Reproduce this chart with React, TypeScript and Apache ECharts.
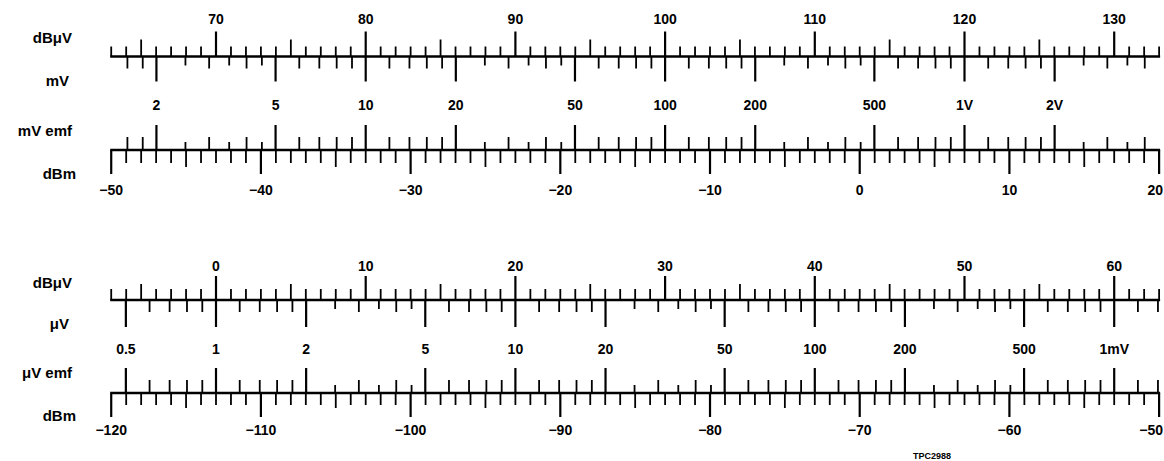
import React, { useEffect, useRef } from "react";
import * as echarts from "echarts";

// ---------- data ----------
const dBuVTopRange = [63, 133]; // dBµV extent of the upper pair of scales
const dBuVBottomRange = [-7, 63]; // dBµV extent of the lower pair of scales
const dBuVTopLabels = [70, 80, 90, 100, 110, 120, 130];
const dBuVBottomLabels = [0, 10, 20, 30, 40, 50, 60];
const mVLabelValues = [2, 5, 10, 20, 50, 100, 200, 500, 1000, 2000];
const mVLabelTexts = ["2", "5", "10", "20", "50", "100", "200", "500", "1V", "2V"];
const uVLabelValues = [0.5, 1, 2, 5, 10, 20, 50, 100, 200, 500, 1000];
const uVLabelTexts = ["0.5", "1", "2", "5", "10", "20", "50", "100", "200", "500", "1mV"];
const dBmTopRange = [-50, 20];
const dBmBottomRange = [-120, -50];
const dBmTopLabels = [-50, -40, -30, -20, -10, 0, 10, 20];
const dBmBottomLabels = [-120, -110, -100, -90, -80, -70, -60, -50];
const logSteps = [1, 1.2, 1.4, 1.6, 1.8, 2, 2.5, 3, 3.5, 4, 4.5, 5, 6, 7, 8, 9];
const logMajor = [1, 2, 5];
const logHalf = [2.5, 3.5, 4.5];
const decades = [-2, -1, 0, 1, 2, 3, 4];
const EMF_DBM_OFFSET = 113; // dBµV(emf) = dBm + 113 (50 Ω, emf = 2 × p.d.)

type Tick = { u: number; kind: string; label?: string };

const fmtDb = (v: number) => (v < 0 ? "\u2212" + Math.abs(v) : String(v));

function linearTicks(range: number[], labels: number[], offset: number): Tick[] {
  const out: Tick[] = [];
  for (let v = range[0]; v <= range[1]; v++) {
    const kind = v % 10 === 0 ? "major" : v % 5 === 0 ? "mid" : "minor";
    out.push({ u: v + offset, kind, label: labels.includes(v) ? fmtDb(v) : undefined });
  }
  return out;
}

function logTicks(range: number[], toMicro: number, labelValues: number[], labelTexts: string[]): Tick[] {
  const out: Tick[] = [];
  for (const e of decades) {
    for (const m of logSteps) {
      const val = m * Math.pow(10, e);
      const u = 20 * Math.log10(val * toMicro);
      if (u <= range[0] + 0.1 || u > range[1] + 0.03) continue;
      const kind = logMajor.includes(m) ? "major" : logHalf.includes(m) ? "half" : "minor";
      const li = labelValues.findIndex((lv) => Math.abs(lv - val) < 1e-6 * lv);
      out.push({ u, kind, label: li >= 0 ? labelTexts[li] : undefined });
    }
  }
  return out;
}

// ---------- layout ----------
const PX_PER_DB = 14.97;
const X70 = 216;
const W = 1164;
const H = 461;
const LINE_Y = [56.5, 150, 300, 393];
const NUM_FONT = 'bold 14px "Liberation Sans", Arial, sans-serif';
const NAME_FONT = 'bold 15px "Liberation Sans", Arial, sans-serif';

type Scale = {
  grid: number;
  lineY: number;
  dir: number;
  len: Record<string, number>;
  labelY: number;
  ticks: Tick[];
};

const scales: Scale[] = [
  { grid: 0, lineY: LINE_Y[0], dir: -1, len: { major: 25, mid: 17, minor: 10 }, labelY: 19,
    ticks: linearTicks(dBuVTopRange, dBuVTopLabels, 0) },
  { grid: 0, lineY: LINE_Y[0], dir: 1, len: { major: 25, half: 9, minor: 12 }, labelY: 105,
    ticks: logTicks(dBuVTopRange, 1000, mVLabelValues, mVLabelTexts) },
  { grid: 0, lineY: LINE_Y[1], dir: -1, len: { major: 25, half: 8, minor: 13 }, labelY: 0,
    ticks: logTicks(dBuVTopRange, 1000, [], []) },
  { grid: 0, lineY: LINE_Y[1], dir: 1, len: { major: 24, mid: 17, minor: 13 }, labelY: 190,
    ticks: linearTicks(dBmTopRange, dBmTopLabels, EMF_DBM_OFFSET) },
  { grid: 1, lineY: LINE_Y[2], dir: -1, len: { major: 24, mid: 16, minor: 11 }, labelY: 266,
    ticks: linearTicks(dBuVBottomRange, dBuVBottomLabels, 0) },
  { grid: 1, lineY: LINE_Y[2], dir: 1, len: { major: 27, half: 9, minor: 12 }, labelY: 349,
    ticks: logTicks(dBuVBottomRange, 1, uVLabelValues, uVLabelTexts) },
  { grid: 1, lineY: LINE_Y[3], dir: -1, len: { major: 25, half: 8, minor: 13 }, labelY: 0,
    ticks: logTicks(dBuVBottomRange, 1, [], []) },
  { grid: 1, lineY: LINE_Y[3], dir: 1, len: { major: 24, mid: 15, minor: 12 }, labelY: 430,
    ticks: linearTicks(dBmBottomRange, dBmBottomLabels, EMF_DBM_OFFSET) },
];

const nameLabels = [
  { text: "dBμV", y: 37, right: 72 },
  { text: "mV", y: 80, right: 69 },
  { text: "mV emf", y: 130, right: 72 },
  { text: "dBm", y: 173, right: 76 },
  { text: "dBμV", y: 282, right: 72 },
  { text: "μV", y: 323, right: 69 },
  { text: "μV emf", y: 372, right: 72 },
  { text: "dBm", y: 415, right: 76 },
];

function tickSeries(s: Scale) {
  return {
    type: "custom",
    coordinateSystem: "cartesian2d",
    xAxisIndex: s.grid,
    yAxisIndex: s.grid,
    clip: false,
    silent: true,
    data: s.ticks.map((t) => [t.u, s.lineY]),
    encode: { x: 0, y: 1 },
    renderItem: (params: any, api: any) => {
      const t = s.ticks[params.dataIndex];
      const p = api.coord([api.value(0), api.value(1)]);
      const x = p[0];
      const y0 = p[1];
      const len = s.len[t.kind];
      const children: any[] = [
        {
          type: "line",
          shape: { x1: x, y1: y0, x2: x, y2: y0 + s.dir * len },
          style: { stroke: "#000", lineWidth: t.kind === "major" ? 2.2 : 1.8 },
        },
      ];
      if (t.label) {
        const ly = api.coord([api.value(0), s.labelY])[1];
        const atEdge = x + 14 > W;
        children.push({
          type: "text",
          x: atEdge ? W - 1 : x,
          y: ly,
          style: {
            text: t.label,
            fill: "#000",
            font: NUM_FONT,
            textAlign: atEdge ? "right" : "center",
            textVerticalAlign: "middle",
          },
        });
      }
      return { type: "group", children };
    },
  };
}

function baselineSeries(grid: number, range: number[], ys: number[]) {
  return {
    type: "custom",
    coordinateSystem: "cartesian2d",
    xAxisIndex: grid,
    yAxisIndex: grid,
    clip: false,
    silent: true,
    data: ys.map((y) => [range[0], y, range[1]]),
    encode: { x: [0, 2], y: 1 },
    renderItem: (params: any, api: any) => {
      const a = api.coord([api.value(0), api.value(1)]);
      const b = api.coord([api.value(2), api.value(1)]);
      return {
        type: "line",
        shape: { x1: a[0] - 1, y1: a[1], x2: b[0] + 1, y2: b[1] },
        style: { stroke: "#000", lineWidth: 2.6 },
      };
    },
  };
}

export default function App() {
  const ref = useRef<HTMLDivElement>(null);
  useEffect(() => {
    if (!ref.current) return;
    const chart = echarts.init(ref.current, null, { renderer: "svg" });
    const topMin = 70 - X70 / PX_PER_DB;
    const topMax = 70 + (W - X70) / PX_PER_DB;
    const option: any = {
      animation: false,
      backgroundColor: "#fff",
      grid: [
        { left: 0, right: 0, top: 0, bottom: 0 },
        { left: 0, right: 0, top: 0, bottom: 0 },
      ],
      xAxis: [
        { type: "value", gridIndex: 0, min: topMin, max: topMax, show: false },
        { type: "value", gridIndex: 1, min: topMin - 70, max: topMax - 70, show: false },
      ],
      yAxis: [
        { type: "value", gridIndex: 0, min: 0, max: H, inverse: true, show: false },
        { type: "value", gridIndex: 1, min: 0, max: H, inverse: true, show: false },
      ],
      series: [
        baselineSeries(0, dBuVTopRange, [LINE_Y[0], LINE_Y[1]]),
        baselineSeries(1, dBuVBottomRange, [LINE_Y[2], LINE_Y[3]]),
        ...scales.map(tickSeries),
      ],
      graphic: [
        ...nameLabels.map((n) => ({
          type: "text",
          x: n.right,
          y: n.y,
          style: {
            text: n.text,
            fill: "#000",
            font: NAME_FONT,
            textAlign: "right",
            textVerticalAlign: "middle",
          },
        })),
        {
          type: "text",
          x: 932,
          y: 456,
          style: {
            text: "TPC2988",
            fill: "#000",
            font: 'bold 9px "Liberation Sans", Arial, sans-serif',
            textAlign: "center",
            textVerticalAlign: "middle",
          },
        },
      ],
    };
    chart.setOption(option);
    return () => chart.dispose();
  }, []);
  return (
    <div
      ref={ref}
      style={{ position: "fixed", left: 0, top: 0, width: W, height: H, background: "#fff" }}
    />
  );
}
